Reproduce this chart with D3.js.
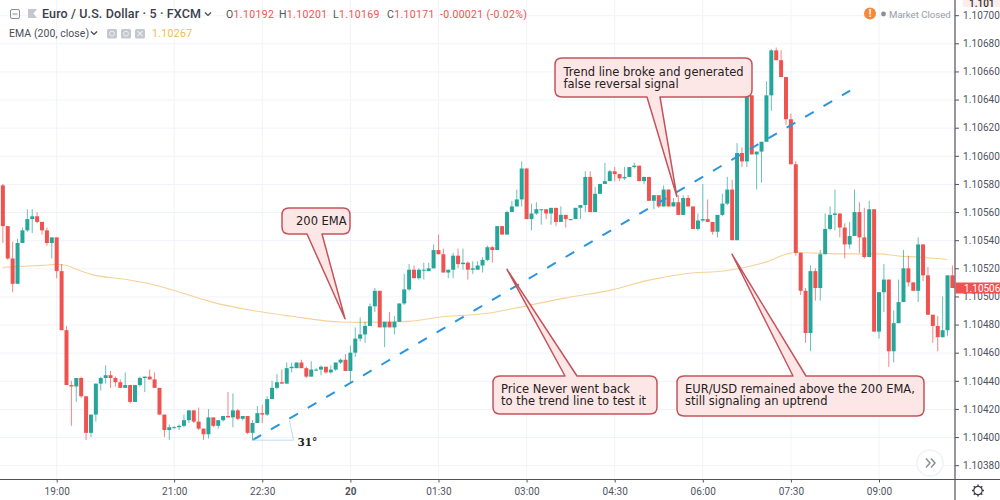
<!DOCTYPE html>
<html><head><meta charset="utf-8">
<style>html,body{margin:0;padding:0;background:#fff;overflow:hidden}svg{display:block}</style>
<script src="https://cdn.jsdelivr.net/npm/d3@7"></script></head><body>
<svg id="c" width="1000" height="500"></svg>
<script>
const firstIndex=-11;
const opens=[1.10579,1.10550,1.10527,1.10509,1.10538,1.10547,1.10555,1.10557,1.10553,1.10547,1.10538,
1.10542,1.10518,1.10476,1.10437,1.10436,1.10442,1.10429,1.10403,1.10416,1.10438,1.10442,1.10444,1.10442,1.10439,1.10435,1.10437,1.10425,1.10437,1.10442,1.10443,
1.10441,1.10435,1.10416,1.10405,1.10407,1.10407,1.10408,1.10412,1.10419,1.10411,1.10406,1.10402,1.10414,1.10408,1.10412,1.10415,1.10414,1.10419,1.10413,1.10415,
1.10403,1.10410,1.10417,1.10416,1.10427,1.10435,1.10439,1.10438,1.10449,1.10449,1.10453,1.10449,1.10443,1.10448,1.10448,1.10450,1.10446,1.10448,1.10453,1.10455,
1.10447,1.10460,1.10470,1.10473,1.10479,1.10493,1.10504,1.10478,1.10482,1.10478,1.10482,1.10495,1.10505,1.10519,1.10513,1.10519,1.10518,1.10520,1.10533,1.10530,
1.10517,1.10519,1.10529,1.10523,1.10524,1.10519,1.10519,1.10522,1.10526,1.10535,1.10533,1.10550,1.10544,1.10560,1.10564,1.10569,1.10591,1.10555,1.10559,1.10562,
1.10562,1.10559,1.10563,1.10553,1.10558,1.10555,1.10555,1.10563,1.10565,1.10585,1.10560,1.10573,1.10580,1.10582,1.10589,1.10587,1.10584,1.10585,1.10592,1.10593,
1.10582,1.10585,1.10568,1.10572,1.10564,1.10576,1.10564,1.10567,1.10558,1.10570,1.10564,1.10548,1.10554,1.10555,1.10553,1.10546,1.10558,1.10566,1.10576,1.10540,
1.10602,1.10596,1.10643,1.10601,1.10603,1.10610,1.10643,1.10675,1.10668,1.10656,1.10626,1.10594,1.10531,1.10504,1.10474,1.10518,1.10506,1.10530,1.10548,1.10558,
1.10559,1.10549,1.10537,1.10543,1.10560,1.10542,1.10528,1.10562,1.10475,1.10503,1.10512,1.10461,1.10481,1.10496,1.10520,1.10510,1.10504,1.10537,1.10515,1.10487,
1.10479,1.10471,1.10476,1.10515,1.10511];
const highs=[1.10580,1.10550,1.10539,1.10541,1.10549,1.10562,1.10562,1.10560,1.10553,1.10549,1.10542,
1.10542,1.10523,1.10479,1.10440,1.10442,1.10443,1.10429,1.10416,1.10438,1.10443,1.10451,1.10447,1.10443,1.10441,1.10446,1.10437,1.10437,1.10443,1.10443,1.10448,
1.10446,1.10435,1.10416,1.10409,1.10408,1.10409,1.10416,1.10419,1.10419,1.10421,1.10406,1.10420,1.10414,1.10412,1.10415,1.10432,1.10431,1.10420,1.10415,1.10415,
1.10412,1.10422,1.10423,1.10429,1.10440,1.10445,1.10448,1.10453,1.10453,1.10453,1.10455,1.10450,1.10454,1.10449,1.10451,1.10450,1.10451,1.10453,1.10456,1.10459,
1.10465,1.10478,1.10485,1.10482,1.10495,1.10506,1.10504,1.10482,1.10489,1.10486,1.10495,1.10516,1.10523,1.10522,1.10520,1.10524,1.10524,1.10537,1.10544,1.10534,
1.10519,1.10531,1.10534,1.10534,1.10525,1.10525,1.10525,1.10528,1.10536,1.10536,1.10550,1.10550,1.10561,1.10568,1.10576,1.10596,1.10591,1.10566,1.10567,1.10562,
1.10562,1.10563,1.10563,1.10564,1.10558,1.10555,1.10563,1.10565,1.10589,1.10589,1.10578,1.10580,1.10595,1.10590,1.10592,1.10587,1.10592,1.10592,1.10595,1.10593,
1.10585,1.10585,1.10572,1.10572,1.10579,1.10576,1.10570,1.10572,1.10572,1.10572,1.10564,1.10559,1.10580,1.10569,1.10553,1.10558,1.10573,1.10585,1.10583,1.10609,
1.10606,1.10643,1.10643,1.10603,1.10610,1.10653,1.10676,1.10677,1.10675,1.10656,1.10630,1.10596,1.10531,1.10506,1.10522,1.10520,1.10533,1.10559,1.10564,1.10576,
1.10559,1.10552,1.10553,1.10576,1.10567,1.10563,1.10568,1.10562,1.10503,1.10523,1.10512,1.10490,1.10512,1.10533,1.10529,1.10510,1.10542,1.10537,1.10521,1.10487,
1.10486,1.10500,1.10515,1.10522,1.10513];
const lows=[1.10538,1.10526,1.10503,1.10509,1.10538,1.10546,1.10545,1.10552,1.10544,1.10536,1.10527,
1.10513,1.10476,1.10437,1.10408,1.10425,1.10428,1.10398,1.10400,1.10411,1.10433,1.10438,1.10435,1.10436,1.10435,1.10435,1.10424,1.10425,1.10436,1.10432,1.10441,
1.10435,1.10416,1.10400,1.10398,1.10406,1.10405,1.10407,1.10410,1.10410,1.10405,1.10398,1.10399,1.10407,1.10406,1.10411,1.10414,1.10407,1.10412,1.10412,1.10402,
1.10398,1.10410,1.10410,1.10415,1.10427,1.10434,1.10438,1.10438,1.10446,1.10449,1.10449,1.10442,1.10443,1.10447,1.10444,1.10445,1.10445,1.10447,1.10452,1.10447,
1.10438,1.10457,1.10468,1.10467,1.10479,1.10489,1.10478,1.10464,1.10478,1.10473,1.10482,1.10494,1.10504,1.10513,1.10512,1.10512,1.10518,1.10520,1.10530,1.10517,
1.10513,1.10513,1.10520,1.10519,1.10512,1.10516,1.10519,1.10517,1.10525,1.10524,1.10533,1.10544,1.10544,1.10560,1.10564,1.10564,1.10555,1.10547,1.10558,1.10551,
1.10555,1.10551,1.10550,1.10553,1.10549,1.10554,1.10555,1.10555,1.10560,1.10560,1.10560,1.10573,1.10580,1.10582,1.10582,1.10582,1.10583,1.10585,1.10591,1.10582,
1.10580,1.10568,1.10562,1.10563,1.10564,1.10564,1.10564,1.10558,1.10558,1.10564,1.10548,1.10547,1.10553,1.10553,1.10544,1.10542,1.10557,1.10565,1.10540,1.10540,
1.10592,1.10592,1.10601,1.10576,1.10581,1.10610,1.10632,1.10668,1.10656,1.10622,1.10594,1.10529,1.10501,1.10467,1.10461,1.10497,1.10497,1.10530,1.10547,1.10547,
1.10542,1.10527,1.10534,1.10543,1.10531,1.10527,1.10528,1.10475,1.10470,1.10489,1.10450,1.10453,1.10481,1.10496,1.10507,1.10504,1.10496,1.10511,1.10487,1.10467,
1.10461,1.10471,1.10472,1.10506,1.10501];
const closes=[1.10550,1.10527,1.10509,1.10538,1.10547,1.10555,1.10557,1.10553,1.10547,1.10538,1.10542,
1.10518,1.10476,1.10437,1.10436,1.10442,1.10429,1.10403,1.10416,1.10438,1.10442,1.10444,1.10442,1.10439,1.10435,1.10437,1.10425,1.10437,1.10442,1.10443,1.10441,
1.10435,1.10416,1.10405,1.10407,1.10407,1.10408,1.10412,1.10419,1.10411,1.10406,1.10402,1.10414,1.10408,1.10412,1.10415,1.10414,1.10419,1.10413,1.10415,1.10403,
1.10410,1.10417,1.10416,1.10427,1.10435,1.10439,1.10438,1.10449,1.10450,1.10453,1.10449,1.10443,1.10448,1.10448,1.10450,1.10446,1.10448,1.10453,1.10455,1.10447,
1.10460,1.10470,1.10473,1.10479,1.10493,1.10504,1.10478,1.10482,1.10478,1.10482,1.10495,1.10505,1.10519,1.10513,1.10519,1.10519,1.10520,1.10533,1.10530,1.10517,
1.10519,1.10529,1.10523,1.10524,1.10519,1.10520,1.10522,1.10526,1.10535,1.10533,1.10550,1.10544,1.10560,1.10564,1.10569,1.10591,1.10555,1.10559,1.10562,1.10562,
1.10559,1.10563,1.10553,1.10558,1.10555,1.10555,1.10563,1.10565,1.10585,1.10560,1.10573,1.10580,1.10582,1.10589,1.10587,1.10584,1.10585,1.10592,1.10593,1.10582,
1.10585,1.10568,1.10572,1.10564,1.10576,1.10564,1.10567,1.10558,1.10570,1.10564,1.10548,1.10554,1.10555,1.10553,1.10546,1.10558,1.10566,1.10576,1.10540,1.10602,
1.10596,1.10643,1.10601,1.10603,1.10610,1.10643,1.10675,1.10668,1.10656,1.10626,1.10594,1.10531,1.10504,1.10474,1.10518,1.10506,1.10530,1.10548,1.10558,1.10559,
1.10549,1.10537,1.10543,1.10560,1.10542,1.10528,1.10562,1.10475,1.10503,1.10512,1.10461,1.10481,1.10496,1.10520,1.10510,1.10504,1.10537,1.10515,1.10487,1.10479,
1.10471,1.10476,1.10515,1.10506,1.10501];
const emaIndex=[-11,-7,-3,0,2,4,7,14,20,24,27,32,40,48,58,62,72,78,88,96,104,113,121,128,137,141,145,149,151,160,168,172,176,182];
const emaValues=[1.105207,1.105214,1.105221,1.105228,1.10522,1.105193,1.105157,1.105122,1.105082,1.105043,1.10501,1.104958,1.1049,1.104859,1.104818,1.104816,1.104823,1.104852,1.10488,1.104933,1.10499,1.105043,1.105116,1.10516,1.105185,1.10521,1.105246,1.1053,1.105313,1.105303,1.105303,1.105288,1.10528,1.105263];
const tickIndex=[0,24,42,60,78,96,114,132,150,168];
const tickLabels=["19:00","21:00","22:30","20","01:30","03:00","04:30","06:00","07:30","09:00"];
const priceTicks=[1.1038,1.104,1.1042,1.1044,1.1046,1.1048,1.105,1.1052,1.1054,1.1056,1.1058,1.106,1.1062,1.1064,1.1066,1.1068,1.107];
const trendIndex=[40,162.1];
const trendPrice=[1.103978,1.106464];
const lastPrice=1.10506;

const RED="#ef5350",GREEN="#26a69a",AXIS="#50535e",LABEL="#4f5360",GRID="#f0f3fa";
const svg=d3.select("#c");
const x=d3.scaleLinear().domain([0,168]).range([56.7,879]);
const y=d3.scaleLinear().domain([1.1038,1.107]).range([465.2,15.2]);
const candles=opens.map((o,k)=>({i:firstIndex+k,o,h:highs[k],l:lows[k],c:closes[k]}));
const col=d=>d.c>=d.o?GREEN:RED;

svg.append("defs").append("clipPath").attr("id","plot").append("rect").attr("x",0).attr("y",0).attr("width",955).attr("height",479);
const plot=svg.append("g").attr("clip-path","url(#plot)");

// grid
plot.append("g").selectAll("line").data(priceTicks).join("line")
 .attr("x1",0).attr("x2",955).attr("y1",d=>y(d)+.5).attr("y2",d=>y(d)+.5).attr("stroke",GRID);
plot.append("g").selectAll("line").data(tickIndex).join("line")
 .attr("x1",d=>x(d)).attr("x2",d=>x(d)).attr("y1",0).attr("y2",479).attr("stroke",GRID);

// EMA
plot.append("path").attr("fill","none").attr("stroke","#f8d196").attr("stroke-width",1.1)
 .attr("d",d3.line().x((d,k)=>x(emaIndex[k])).y(d=>y(d)).curve(d3.curveMonotoneX)(emaValues));

// candles
plot.append("g").selectAll("line").data(candles).join("line")
 .attr("x1",d=>x(d.i)).attr("x2",d=>x(d.i)).attr("y1",d=>y(d.h)).attr("y2",d=>y(d.l))
 .attr("stroke",col).attr("stroke-width",1).attr("stroke-opacity",.7);
plot.append("g").selectAll("rect").data(candles).join("rect")
 .attr("x",d=>x(d.i)-2).attr("width",4)
 .attr("y",d=>Math.min(y(d.o),y(d.c))).attr("height",d=>Math.max(1,Math.abs(y(d.o)-y(d.c))))
 .attr("fill",col);

// trend line
plot.append("line").attr("x1",x(trendIndex[0])).attr("y1",y(trendPrice[0])).attr("x2",x(trendIndex[1])).attr("y2",y(trendPrice[1]))
 .attr("stroke","#2b96dc").attr("stroke-width",2).attr("stroke-dasharray","10 11.34");
// angle marker
const ax=x(trendIndex[0]),ay=y(trendPrice[0]);
plot.append("path").attr("d",`M${ax},${ay}H${ax+41}Q${ax+39},${ay-10} ${ax+37},${ay-20}`)
 .attr("fill","none").attr("stroke","#bcdcf5").attr("stroke-width",1);
svg.append("text").attr("x",ax+45).attr("y",ay+6).text("31°")
 .attr("font-family","DejaVu Serif").attr("font-weight","bold").attr("font-size",10.5).attr("fill","#222");

// callouts
const callouts=[
 {b:[282,208,350,234],base:[307,322],tip:[58.9,1.104841],lines:["200 EMA"],tx:296,ty:225},
 {b:[555,58,752,97],base:[647,660],tip:[126.7,1.105711],lines:["Trend line broke and generated","false reversal signal"],tx:563.5,ty:76},
 {b:[493,376,657,414],base:[565,577],tip:[92,1.105193],lines:["Price Never went back","to the trend line to test it"],tx:501,ty:393},
 {b:[677,376,924,416],base:[793,806],tip:[137.97,1.1053],lines:["EUR/USD remained above the 200 EMA,","still signaling an uptrend"],tx:685,ty:393}
];
const cg=svg.append("g");
callouts.forEach(c=>{
 const [l,t,r,b]=c.b,k=7,tx=x(c.tip[0]),ty=y(c.tip[1]);
 const up=ty<t;
 let d=`M${l+k},${t}`;
 if(up){d+=`L${c.base[0]},${t}L${tx},${ty}L${c.base[1]},${t}`;}
 d+=`H${r-k}Q${r},${t} ${r},${t+k}V${b-k}Q${r},${b} ${r-k},${b}`;
 if(!up){d+=`L${c.base[1]},${b}L${tx},${ty}L${c.base[0]},${b}`;}
 d+=`H${l+k}Q${l},${b} ${l},${b-k}V${t+k}Q${l},${t} ${l+k},${t}Z`;
 cg.append("path").attr("d",d).attr("fill","#fde6e6").attr("stroke","#c4545c").attr("stroke-width",1.5).attr("stroke-linejoin","round");
 c.lines.forEach((s,n)=>cg.append("text").attr("x",c.tx).attr("y",c.ty+n*11.5).text(s)
   .attr("font-family","DejaVu Sans").attr("font-size",11.5).attr("fill","#222"));
});

// axes
const yAxis=svg.append("g").attr("transform","translate(955,0)")
 .call(d3.axisRight(y).tickValues(priceTicks).tickFormat(d3.format(".5f")).tickSize(4).tickPadding(4));
const xAxis=svg.append("g").attr("transform","translate(0,479.5)")
 .call(d3.axisBottom(x).tickValues(tickIndex).tickFormat((d,k)=>tickLabels[k]).tickSize(3).tickPadding(5));
[yAxis,xAxis].forEach(a=>{
 a.selectAll("text").attr("font-family","Roboto").attr("font-size",10).attr("fill",LABEL).attr("letter-spacing",".1px");
 a.selectAll("line").attr("stroke",AXIS);
 a.select(".domain").remove();
});
xAxis.selectAll("text").filter(d=>d===60).attr("font-weight","bold");
svg.append("line").attr("x1",955).attr("x2",955).attr("y1",0).attr("y2",500).attr("stroke",AXIS).attr("stroke-width",1.2);
svg.append("line").attr("x1",0).attr("x2",1000).attr("y1",479.5).attr("y2",479.5).attr("stroke",AXIS).attr("stroke-width",1.2);

// last price tag
const yl=y(lastPrice);
svg.append("rect").attr("x",955.5).attr("y",yl-5.5).attr("width",44.5).attr("height",11).attr("fill",RED);
svg.append("text").attr("x",964).attr("y",yl+3.5).text(d3.format(".5f")(lastPrice))
 .attr("font-family","Roboto").attr("font-size",10).attr("fill","#fff");

// clipped top tag
svg.append("rect").attr("x",963).attr("y",0).attr("width",37).attr("height",7).attr("fill","#fdecec");
svg.append("text").attr("x",969).attr("y",7).text("1.101")
 .attr("font-family","Roboto").attr("font-size",10).attr("font-weight","500").attr("fill","#333");

// header
const hdr=svg.append("g").attr("font-family","Roboto");
hdr.append("rect").attr("x",10.5).attr("y",9.5).attr("width",9).attr("height",9).attr("rx",1.5).attr("fill","none").attr("stroke","#8a8e99");
hdr.append("line").attr("x1",12.5).attr("x2",17.5).attr("y1",14).attr("y2",14).attr("stroke","#8a8e99");
hdr.append("path").attr("d","M28,9H37L33.5,13.5L37,18H28Z").attr("fill","#c4c7cf");
hdr.append("text").attr("x",42).attr("y",18).text("Euro / U.S. Dollar · 5 · FXCM").attr("font-size",12.5).attr("letter-spacing",".13px").attr("fill","#3a3e48").attr("font-weight","500");
const chev=(cx,cy)=>hdr.append("path").attr("d",`M${cx-3},${cy-1.5}L${cx},${cy+1.5}L${cx+3},${cy-1.5}`).attr("fill","none").attr("stroke","#444").attr("stroke-width",1.2);
chev(208,14);
const ohlc=[["O","1.10192",226],["H","1.10201",279],["L","1.10169",333],["C","1.10171",387]];
ohlc.forEach(([a,b,px])=>{
 const t=hdr.append("text").attr("x",px).attr("y",18).attr("font-size",10.5).attr("letter-spacing",".35px");
 t.append("tspan").text(a).attr("fill","#555");
 t.append("tspan").text(b).attr("fill",RED);
});
hdr.append("text").attr("x",440).attr("y",18).text("-0.00021 (-0.02%)").attr("font-size",10.5).attr("letter-spacing",".3px").attr("fill",RED);
hdr.append("text").attr("x",9).attr("y",37).text("EMA (200, close)").attr("font-size",10.5).attr("letter-spacing",".05px").attr("fill","#4a4e59");
chev(94,33);
[107,121,135].forEach(px=>hdr.append("rect").attr("x",px).attr("y",29).attr("width",10).attr("height",9.5).attr("rx",1.5).attr("fill","#c4c7cf"));
[112,126].forEach(px=>hdr.append("circle").attr("cx",px).attr("cy",33.7).attr("r",2.4).attr("fill","none").attr("stroke","#eee"));
hdr.append("path").attr("d","M137.5,31.2L142.5,36.2M142.5,31.2L137.5,36.2").attr("stroke","#eee").attr("stroke-width",1.2);
hdr.append("text").attr("x",152).attr("y",37).text("1.10267").attr("font-size",10.5).attr("letter-spacing",".35px").attr("fill","#f5b74f");

// market closed
hdr.append("circle").attr("cx",870).attr("cy",13.5).attr("r",6).attr("fill","#f6883a");
hdr.append("text").attr("x",870).attr("y",17).attr("text-anchor","middle").text("!").attr("font-size",10).attr("font-weight","bold").attr("fill","#fff");
hdr.append("circle").attr("cx",883.5).attr("cy",14).attr("r",2.4).attr("fill","#8a8e99");
hdr.append("text").attr("x",889).attr("y",17.5).text("Market Closed").attr("font-size",9.6).attr("fill","#9a9da6");

// scroll button
svg.append("circle").attr("cx",930).attr("cy",463).attr("r",13).attr("fill","#fff").attr("stroke","#f1f2f5").attr("stroke-width",1.5);
svg.append("path").attr("d","M926,458.5L930,463L926,467.5M931,458.5L935,463L931,467.5").attr("fill","none").attr("stroke","#8a8e99").attr("stroke-width",1.5);

// settings gear
const gear=svg.append("g").attr("transform","translate(978,490.5)").attr("stroke","#3c3f48").attr("fill","none");
gear.append("circle").attr("r",4.2).attr("stroke-width",1.2);
d3.range(8).forEach(k=>{const a=k*Math.PI/4;
 gear.append("line").attr("x1",4*Math.cos(a)).attr("y1",4*Math.sin(a)).attr("x2",6*Math.cos(a)).attr("y2",6*Math.sin(a)).attr("stroke-width",1.4);});
</script></body></html>
